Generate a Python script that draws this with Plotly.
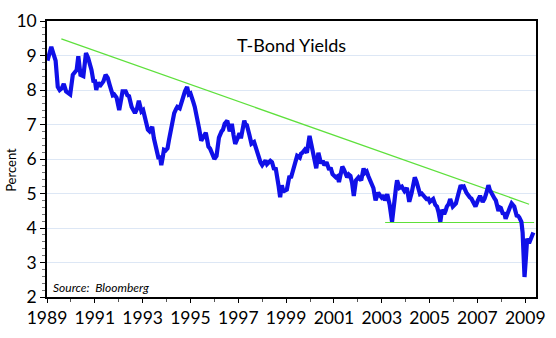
import plotly.graph_objects as go

# Decimal years and 30-yr T-bond yields (%)
years = [1989.02, 1989.10, 1989.18, 1989.27, 1989.36, 1989.45, 1989.53, 1989.62, 1989.70, 1989.80,
         1989.90, 1989.97, 1990.08, 1990.16, 1990.24, 1990.31, 1990.36, 1990.40, 1990.52, 1990.63,
         1990.72, 1990.80, 1990.86, 1990.95, 1991.00, 1991.06, 1991.13, 1991.20, 1991.27, 1991.36,
         1991.45, 1991.54, 1991.62, 1991.68, 1991.75, 1991.81, 1991.91, 1992.02, 1992.08, 1992.16,
         1992.29, 1992.36, 1992.43, 1992.48, 1992.54, 1992.68, 1992.76, 1992.84, 1992.95, 1993.02,
         1993.09, 1993.15, 1993.22, 1993.29, 1993.40, 1993.47, 1993.54, 1993.62, 1993.67, 1993.72,
         1993.78, 1993.84, 1993.89, 1993.96, 1994.04, 1994.10, 1994.18, 1994.25, 1994.32, 1994.40,
         1994.45, 1994.55, 1994.60, 1994.66, 1994.72, 1994.77, 1994.86, 1994.93, 1995.00, 1995.07,
         1995.12, 1995.18, 1995.27, 1995.36, 1995.45, 1995.54, 1995.64, 1995.70, 1995.75, 1995.82,
         1995.89, 1996.00, 1996.09, 1996.19, 1996.30, 1996.36, 1996.43, 1996.54, 1996.64, 1996.73,
         1996.80, 1996.87, 1996.98, 1997.05, 1997.11, 1997.18, 1997.25, 1997.30, 1997.36, 1997.46,
         1997.55, 1997.66, 1997.77, 1997.86, 1997.93, 1998.00, 1998.07, 1998.14, 1998.20, 1998.27,
         1998.34, 1998.41, 1998.50, 1998.56, 1998.62, 1998.69, 1998.75, 1998.82, 1998.87, 1998.92,
         1999.03, 1999.09, 1999.14, 1999.20, 1999.27, 1999.37, 1999.46, 1999.57, 1999.62, 1999.68,
         1999.78, 1999.87, 1999.93, 1999.98, 2000.05, 2000.10, 2000.15, 2000.20, 2000.26, 2000.35,
         2000.40, 2000.46, 2000.53, 2000.60, 2000.69, 2000.80, 2000.86, 2000.94, 2001.08, 2001.15,
         2001.21, 2001.28, 2001.35, 2001.42, 2001.48, 2001.55, 2001.62, 2001.69, 2001.76, 2001.83,
         2001.92, 2002.03, 2002.14, 2002.20, 2002.24, 2002.30, 2002.37, 2002.44, 2002.51, 2002.58,
         2002.65, 2002.74, 2002.80, 2002.85, 2002.92, 2002.99, 2003.06, 2003.13, 2003.23, 2003.28,
         2003.33, 2003.43, 2003.48, 2003.54, 2003.60, 2003.64, 2003.70, 2003.74, 2003.84, 2003.90,
         2003.95, 2004.05, 2004.10, 2004.15, 2004.25, 2004.32, 2004.38, 2004.45, 2004.49, 2004.55,
         2004.60, 2004.67, 2004.74, 2004.80, 2004.87, 2004.95, 2005.01, 2005.08, 2005.15, 2005.24,
         2005.31, 2005.38, 2005.45, 2005.52, 2005.61, 2005.67, 2005.72, 2005.80, 2005.86, 2005.97,
         2006.04, 2006.10, 2006.20, 2006.30, 2006.36, 2006.43, 2006.54, 2006.60, 2006.68, 2006.75,
         2006.82, 2006.92, 2007.02, 2007.11, 2007.22, 2007.30, 2007.36, 2007.46, 2007.52, 2007.57,
         2007.66, 2007.72, 2007.77, 2007.88, 2007.93, 2007.98, 2008.07, 2008.12, 2008.18, 2008.24,
         2008.29, 2008.36, 2008.43, 2008.50, 2008.54, 2008.64, 2008.70, 2008.75, 2008.84, 2008.89,
         2008.93, 2008.97, 2009.03, 2009.08, 2009.16, 2009.25, 2009.30, 2009.34]

yields = [8.85, 9.05, 9.25, 9.05, 8.85, 8.09, 8.00, 8.05, 8.18, 7.96,
          7.90, 7.87, 8.44, 8.50, 8.58, 8.98, 8.60, 8.44, 8.40, 9.07,
          8.93, 8.75, 8.58, 8.22, 8.30, 8.00, 8.22, 8.10, 8.18, 8.25,
          8.44, 8.35, 8.15, 7.96, 7.85, 7.87, 7.78, 7.42, 7.60, 7.96,
          7.96, 7.85, 7.82, 7.60, 7.51, 7.33, 7.45, 7.69, 7.38, 7.42,
          7.24, 7.02, 6.85, 6.80, 6.93, 6.60, 6.36, 6.15, 6.00, 6.10,
          5.82, 6.05, 6.27, 6.25, 6.31, 6.55, 6.89, 7.10, 7.33, 7.45,
          7.51, 7.47, 7.60, 7.78, 7.85, 7.96, 8.09, 7.87, 7.90, 7.78,
          7.65, 7.51, 7.24, 6.89, 6.53, 6.62, 6.76, 6.55, 6.36, 6.30,
          6.18, 6.00, 6.09, 6.62, 6.80, 6.85, 7.02, 7.11, 6.80, 7.02,
          6.70, 6.44, 6.62, 6.75, 6.60, 6.80, 7.11, 7.00, 6.98, 6.71,
          6.44, 6.49, 6.27, 6.00, 5.90, 5.82, 5.90, 5.96, 5.85, 5.91,
          5.95, 5.91, 5.69, 5.75, 5.56, 5.20, 4.89, 5.24, 5.10, 5.07,
          5.11, 5.30, 5.51, 5.45, 5.60, 5.87, 6.09, 6.04, 6.15, 6.18,
          6.27, 6.18, 6.40, 6.67, 6.44, 6.30, 6.04, 5.95, 5.73, 6.18,
          6.00, 5.87, 5.95, 5.82, 5.91, 5.69, 5.75, 5.56, 5.47, 5.50,
          5.33, 5.55, 5.78, 5.69, 5.60, 5.47, 5.55, 5.51, 5.30, 4.93,
          5.38, 5.47, 5.38, 5.55, 5.73, 5.60, 5.64, 5.50, 5.38, 5.30,
          5.16, 4.80, 4.95, 5.02, 4.95, 4.89, 4.95, 4.80, 4.98, 4.85,
          4.67, 4.18, 4.40, 4.84, 5.20, 5.38, 5.25, 5.16, 5.20, 5.10,
          5.07, 5.16, 4.95, 4.76, 5.02, 5.30, 5.47, 5.35, 5.24, 5.10,
          4.98, 5.00, 4.93, 4.90, 4.84, 4.85, 4.76, 4.80, 4.84, 4.67,
          4.62, 4.44, 4.18, 4.53, 4.40, 4.50, 4.62, 4.70, 4.84, 4.62,
          4.65, 4.71, 4.98, 5.24, 5.18, 5.20, 5.02, 4.95, 4.89, 4.85,
          4.76, 4.62, 4.80, 4.93, 4.76, 4.85, 4.98, 5.24, 5.10, 5.02,
          4.89, 4.85, 4.80, 4.49, 4.60, 4.58, 4.40, 4.45, 4.27, 4.40,
          4.49, 4.60, 4.71, 4.65, 4.62, 4.36, 4.35, 4.31, 4.18, 3.87,
          3.16, 2.58, 3.16, 3.69, 3.56, 3.69, 3.75, 3.87]

# Trend lines (endpoints)
trend_x = [1989.6, 2009.16]
trend_y = [9.48, 4.69]
support_x = [2003.14, 2009.37]
support_y = [4.16, 4.16]

tick_years = list(range(1989, 2010, 2))
tick_text = [str(y) for y in tick_years]

FONT = "Lato"

fig = go.Figure()
fig.add_trace(go.Scatter(x=trend_x, y=trend_y, mode="lines",
                         line=dict(color="#5ee03c", width=1.2), showlegend=False))
fig.add_trace(go.Scatter(x=support_x, y=support_y, mode="lines",
                         line=dict(color="#5ee03c", width=1.2), showlegend=False))
fig.add_trace(go.Scatter(x=years, y=yields, mode="lines",
                         line=dict(color="#1010e8", width=4.2, shape="linear"),
                         showlegend=False))

fig.update_layout(
    width=556, height=338,
    margin=dict(l=47, r=10, t=10, b=28),
    paper_bgcolor="white", plot_bgcolor="white",
    font=dict(family=FONT, color="black"),
    xaxis=dict(range=[1989, 2009.45], tickvals=tick_years, ticktext=tick_text,
               showgrid=False, zeroline=False,
               showline=True, linecolor="black", linewidth=1.5, mirror=True,
               ticks="outside", ticklen=4, tickcolor="black",
               minor=dict(dtick=1, tick0=1989, ticks="outside", ticklen=3, tickcolor="#555"),
               tickfont=dict(size=17.5, family=FONT)),
    yaxis=dict(range=[2, 10], dtick=1, tick0=2,
               showgrid=True, gridcolor="#dde7f5", gridwidth=1, zeroline=False,
               showline=True, linecolor="black", linewidth=1.5, mirror=True,
               ticks="outside", ticklen=5, tickcolor="black",
               minor=dict(dtick=0.2, ticks="outside", ticklen=3, tickcolor="#777"),
               tickfont=dict(size=17.5, family=FONT)),
    annotations=[
        dict(text="T-Bond Yields", xref="paper", yref="paper", x=0.5, y=0.913,
             xanchor="center", yanchor="middle", showarrow=False,
             font=dict(size=18, family=FONT)),
        dict(text="Percent", xref="paper", yref="paper", x=-0.074, y=0.46,
             xanchor="center", yanchor="middle", textangle=-90, showarrow=False,
             font=dict(size=13, family=FONT)),
        dict(text="<i>Source:  Bloomberg</i>", xref="paper", yref="paper", x=0.008, y=0.035,
             xanchor="left", yanchor="middle", showarrow=False,
             font=dict(size=12, family=FONT)),
    ],
)

fig.write_html("out.html")
